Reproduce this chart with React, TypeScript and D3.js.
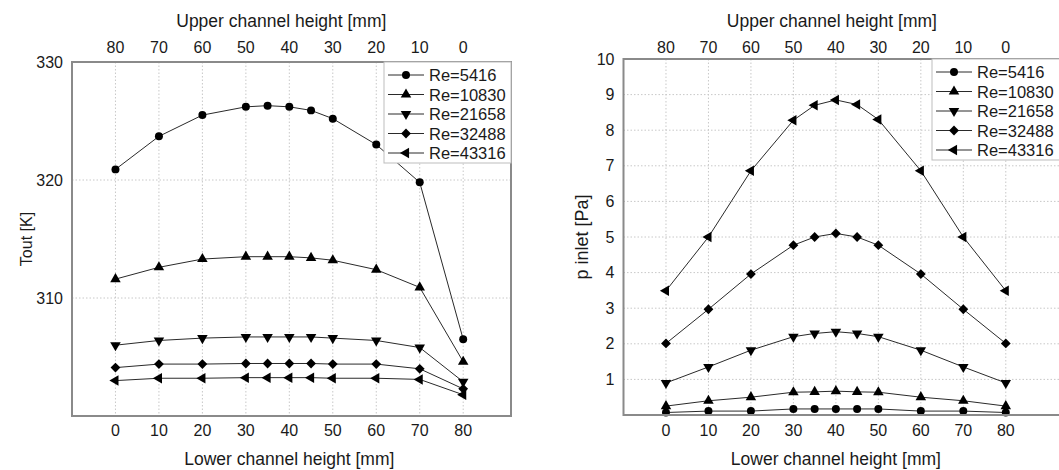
import React from "react";
import * as d3 from "d3";

const lowerHeights = [0, 10, 20, 30, 35, 40, 45, 50, 60, 70, 80];
const lowerTicks = [0, 10, 20, 30, 40, 50, 60, 70, 80];
const upperTicks = [80, 70, 60, 50, 40, 30, 20, 10, 0];
const reLabels = ["Re=5416", "Re=10830", "Re=21658", "Re=32488", "Re=43316"];

const toutRe5416 = [320.9, 323.7, 325.5, 326.2, 326.3, 326.2, 325.9, 325.2, 323.0, 319.8, 306.5];
const toutRe10830 = [311.6, 312.6, 313.3, 313.5, 313.5, 313.5, 313.4, 313.2, 312.4, 310.9, 304.6];
const toutRe21658 = [306.0, 306.4, 306.6, 306.7, 306.7, 306.7, 306.7, 306.6, 306.4, 305.8, 302.9];
const toutRe32488 = [304.1, 304.4, 304.4, 304.45, 304.45, 304.45, 304.45, 304.4, 304.4, 304.0, 302.3];
const toutRe43316 = [303.0, 303.2, 303.2, 303.25, 303.25, 303.25, 303.25, 303.2, 303.2, 303.1, 301.8];
const toutTicks = [310, 320, 330];

const pRe5416 = [0.07, 0.11, 0.11, 0.17, 0.17, 0.17, 0.17, 0.17, 0.11, 0.11, 0.07];
const pRe10830 = [0.25, 0.4, 0.5, 0.64, 0.65, 0.67, 0.65, 0.64, 0.5, 0.4, 0.25];
const pRe21658 = [0.9, 1.35, 1.82, 2.2, 2.29, 2.34, 2.29, 2.2, 1.82, 1.35, 0.9];
const pRe32488 = [2.01, 2.97, 3.96, 4.77, 5.0, 5.1, 5.0, 4.77, 3.96, 2.97, 2.01];
const pRe43316 = [3.49, 5.0, 6.86, 8.28, 8.7, 8.85, 8.72, 8.3, 6.86, 5.0, 3.49];
const pTicks = [1, 2, 3, 4, 5, 6, 7, 8, 9, 10];

const FONT = "'Liberation Sans', Arial, sans-serif";
const TXT = "#1a1a1a";

type Marker = "circle" | "up" | "down" | "diamond" | "left";
const markers: Marker[] = ["circle", "up", "down", "diamond", "left"];

function markerPath(m: Marker): { d: string; rot: number } {
  switch (m) {
    case "circle":
      return { d: d3.symbol(d3.symbolCircle, 50)() as string, rot: 0 };
    case "up":
      return { d: d3.symbol(d3.symbolTriangle, 48)() as string, rot: 0 };
    case "down":
      return { d: d3.symbol(d3.symbolTriangle, 48)() as string, rot: 180 };
    case "diamond":
      return { d: d3.symbol(d3.symbolSquare, 48)() as string, rot: 45 };
    case "left":
      return { d: d3.symbol(d3.symbolTriangle, 48)() as string, rot: -90 };
  }
}

function Mark({ m, x, y }: { m: Marker; x: number; y: number }) {
  const { d, rot } = markerPath(m);
  return <path d={d} transform={`translate(${x},${y}) rotate(${rot})`} fill="#000" />;
}

interface PanelProps {
  series: number[][];
  xRange: [number, number];
  xDomain: [number, number];
  yRange: [number, number];
  yDomain: [number, number];
  yTicks: number[];
  yLabel: string;
  yLabelX: number;
  yLabelSize: number;
  legendX: number;
  legendY: number;
  legendW: number;
  topTitleShift: number;
}

function Panel(p: PanelProps) {
  const x = d3.scaleLinear().domain(p.xDomain).range(p.xRange);
  const xu = d3.scaleLinear().domain([p.xDomain[0], p.xDomain[1]].map((v) => 80 - v)).range(p.xRange);
  const y = d3.scaleLinear().domain(p.yDomain).range(p.yRange);
  const [x0, x1] = p.xRange;
  const [yb, yt] = p.yRange;
  const line = d3
    .line<number>()
    .x((_, i) => x(lowerHeights[i]))
    .y((v) => y(v));
  const cx = x(40);
  const cy = (yb + yt) / 2;
  const rowH = 19.5;
  return (
    <g>
      {lowerTicks.map((t) => (
        <line key={"gx" + t} x1={x(t)} x2={x(t)} y1={yt} y2={yb} stroke="#c8c8c8" strokeWidth={1} strokeDasharray="1.5,2" />
      ))}
      {p.yTicks.map((t) => (
        <line key={"gy" + t} x1={x0} x2={x1} y1={y(t)} y2={y(t)} stroke="#c8c8c8" strokeWidth={1} strokeDasharray="1.5,2" />
      ))}
      {p.series.map((s, si) => (
        <g key={"s" + si}>
          <path d={line(s) as string} fill="none" stroke="#2a2a2a" strokeWidth={1} />
          {s.map((v, i) => (
            <Mark key={i} m={markers[si]} x={x(lowerHeights[i])} y={y(v)} />
          ))}
        </g>
      ))}
      <line x1={x0} x2={x1} y1={yb} y2={yb} stroke="#8a8a8a" strokeWidth={2} />
      <line x1={x0} x2={x1} y1={yt} y2={yt} stroke="#8a8a8a" strokeWidth={2} />
      <line x1={x0} x2={x0} y1={yt - 1} y2={yb + 1} stroke="#8a8a8a" strokeWidth={2} />
      <line x1={x1} x2={x1} y1={yt - 1} y2={yb + 1} stroke="#8a8a8a" strokeWidth={2} />
      {lowerTicks.map((t) => (
        <text key={"lx" + t} x={x(t)} y={436} textAnchor="middle" fontSize={16} fill={TXT} fontFamily={FONT}>
          {t}
        </text>
      ))}
      {upperTicks.map((t) => (
        <text key={"ux" + t} x={xu(t)} y={53} textAnchor="middle" fontSize={16} fill={TXT} fontFamily={FONT}>
          {t}
        </text>
      ))}
      {p.yTicks.map((t) => (
        <text key={"ly" + t} x={x0 - 9} y={y(t) + 5.5} textAnchor="end" fontSize={16} fill={TXT} fontFamily={FONT}>
          {t}
        </text>
      ))}
      <text x={cx} y={465} textAnchor="middle" fontSize={17.5} fill={TXT} fontFamily={FONT}>
        Lower channel height [mm]
      </text>
      <text x={cx + p.topTitleShift} y={27} textAnchor="middle" fontSize={17.5} fill={TXT} fontFamily={FONT}>
        Upper channel height [mm]
      </text>
      <text
        transform={`translate(${p.yLabelX},${cy}) rotate(-90)`}
        textAnchor="middle"
        fontSize={p.yLabelSize}
        fill={TXT}
        fontFamily={FONT}
      >
        {p.yLabel}
      </text>
      <rect x={p.legendX} y={p.legendY} width={p.legendW} height={101} fill="#fff" stroke="#bdbdbd" strokeWidth={1} />
      {reLabels.map((lab, i) => {
        const ly = p.legendY + 13 + i * rowH;
        return (
          <g key={"lg" + i}>
            <line x1={p.legendX + 4} x2={p.legendX + 40} y1={ly} y2={ly} stroke="#2a2a2a" strokeWidth={1} />
            <Mark m={markers[i]} x={p.legendX + 22} y={ly} />
            <text x={p.legendX + 45} y={ly + 6} fontSize={16.5} fill={TXT} fontFamily={FONT}>
              {lab}
            </text>
          </g>
        );
      })}
    </g>
  );
}

export default function App() {
  return (
    <svg width={1059} height={470} style={{ position: "absolute", left: 0, top: 0, background: "#fff" }}>
      <rect width={1059} height={470} fill="#fff" />
      <Panel
        series={[toutRe5416, toutRe10830, toutRe21658, toutRe32488, toutRe43316]}
        xRange={[72, 511]}
        xDomain={[-10, 91]}
        yRange={[416, 62]}
        yDomain={[300, 330]}
        yTicks={toutTicks}
        yLabel="Tout [K]"
        yLabelX={32}
        yLabelSize={16}
        legendX={384}
        legendY={62}
        legendW={127}
        topTitleShift={-8}
      />
      <Panel
        series={[pRe5416, pRe10830, pRe21658, pRe32488, pRe43316]}
        xRange={[623.5, 1061]}
        xDomain={[-10, 93]}
        yRange={[415, 59]}
        yDomain={[0, 10]}
        yTicks={pTicks}
        yLabel="p inlet [Pa]"
        yLabelX={588}
        yLabelSize={18}
        legendX={932}
        legendY={59}
        legendW={129}
        topTitleShift={-4}
      />
    </svg>
  );
}
